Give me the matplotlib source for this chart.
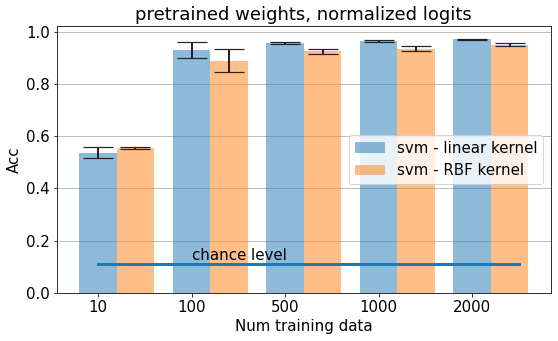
import numpy as np
import matplotlib
matplotlib.use('Agg')
import matplotlib.pyplot as plt

# data
n_train = ['10', '100', '500', '1000', '2000']
acc_linear = [0.537, 0.930, 0.956, 0.964, 0.971]
err_linear = [0.021, 0.030, 0.004, 0.003, 0.003]
acc_rbf = [0.555, 0.890, 0.925, 0.936, 0.951]
err_rbf = [0.002, 0.045, 0.010, 0.010, 0.006]
chance = 1 / 9

plt.rcParams['font.size'] = 15

fig, ax = plt.subplots(figsize=(558 / 72, 341 / 72), dpi=72)
x = np.arange(len(n_train))
width = 0.4
ekw = dict(elinewidth=2, capthick=1.2, ecolor='#222222')

ax.bar(x, acc_linear, width, yerr=err_linear, capsize=15, alpha=0.5,
       color='C0', error_kw=ekw, label='svm - linear kernel')
ax.bar(x + width, acc_rbf, width, yerr=err_rbf, capsize=15, alpha=0.5,
       color='C1', error_kw=ekw, label='svm - RBF kernel')

ax.plot([0, 4.5], [chance, chance], color='C0', linewidth=3)
ax.text(1, chance + 0.015, 'chance level')

ax.set_xticks(x)
ax.set_xticklabels(n_train)
ax.set_xlabel('Num training data')
ax.set_ylabel('Acc')
ax.set_title('pretrained weights, normalized logits', fontsize=18)
ax.grid(axis='y', color='#b0b0b0')
ax.set_axisbelow(True)
ax.legend(loc='center right')

fig.subplots_adjust(left=0.102, right=0.987, top=0.924, bottom=0.141)
fig.savefig('out.png')
